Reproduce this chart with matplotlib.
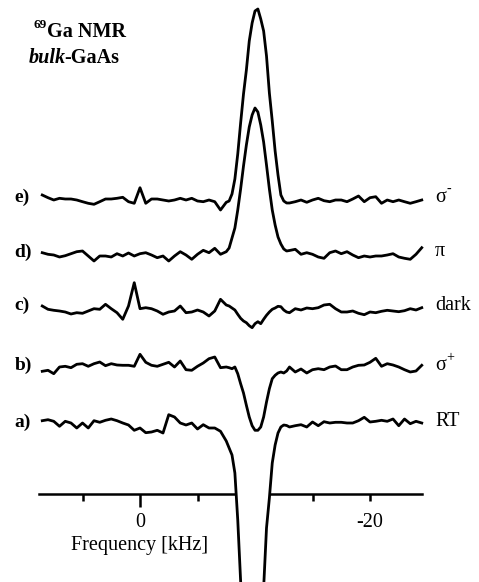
import numpy as np
import matplotlib
matplotlib.use("Agg")
import matplotlib.pyplot as plt

plt.rcParams['font.family'] = ['Liberation Serif', 'DejaVu Serif']

# ---------------- data ----------------
# frequency grid (kHz): 0.5 kHz steps, 0.25 kHz steps across the line
freq_khz = np.concatenate([np.arange(8.5, -7.75, -0.5),
                           np.arange(-7.75, -13.1, -0.25),
                           np.arange(-13.5, -24.6, -0.5)])

# e) sigma-
trace_e = [6, 3.3, 1, 2.7, 2, 2, 1, -0.7, -2.3, -3.3, -0.7, 2, 2, 2.7, 3.7, -0.7, -2.3,
           13.3, -2.3, 2, 2, 1, 0, 1, 2.7, 1, 2.7, 0, -0.7, 1, -0.7, -9, -1.3,
           0, 7, 22, 47, 78, 107, 131, 160, 178, 190, 192, 182, 170, 145, 108, 80, 50, 26, 6, 0, -2, -2,
           -0.7, 1, -1.3, 1, 2.7, 0.3, -0.7, 1, 1, -0.7, 2, 5, -0.7, 3.3, 4.3, -2.3, 1, -0.7, 1,
           -0.7, -2.3, -0.7, 1]
# d) pi
trace_d = [2.3, 0.7, 0, -2, -0.7, 1.3, 3.3, 4, -1, -6, -1, -1, -2, 1.3, -1, 2, -1, 1.3, 2.3,
           0, -2.7, -1, -6, -1, 3.3, 0, -4.3, 0.7, 4.7, 2.3, 6.7, 0.7, 3.3,
           7, 17, 27, 45, 66, 89, 110, 128, 140, 147, 143, 130, 113, 90, 66, 45, 30, 18, 11, 6, 4, 4.5,
           5.7, 0.7, 2.3, 0.7, -2, -3.3, 2.3, 4, 1.3, 3.3, 0, -2.7, -1, -2, -1, -1, 0, 1.3, -2,
           -3.3, -4.3, 0.7, 7.3]
# c) dark
trace_c = [4, 0.7, -0.3, -1, -2, -4, -2.7, -3.3, -1, 1.3, 0.7, 5.7, 1.3, -2.7, -9.3, 4, 27.3,
           1.3, 2.3, 1.3, -1, -4.3, -2, -1, 4, -2.7, -2, 0, -2, -6, -1, 10.7, 5,
           4, 2, 0, -4.3, -8.3, -11, -12.7, -15.7, -17.7, -13.7, -11.7, -13.7, -9.3, -5.3, -2, 0.7,
           2, 3.7, 3.3, 0, -2, -2.7,
           1.3, 0, 2, 1.3, 2.3, 5, 5.7, 1.3, -2, -2, -1, -3.3, -4.7, -2, -2.7, -1.3, -0.3, -1,
           -1.7, -0.7, 1.3, 0, 2.3]
# b) sigma+
trace_b = [-4.3, -3.3, -6.7, 0, 0.7, -0.7, 2.7, 3.3, 0.7, 3.3, 5, 1.3, 3.3, 2, 1.7, 1.7, 0.7,
           12.7, 4.7, 1.7, 0.7, 2.7, 4.7, 0, 6, -2.7, -3.3, 0.7, 4, 8.3, 10, -0.7, 0,
           -0.7, -1.7, 0, -6.7, -16.7, -26, -38.3, -50, -58.7, -63.3, -63.3, -60, -50, -35, -21.7,
           -11.7, -8.3, -6, -5, -6, -4, 0,
           -5, -2, -6, -2.7, -1.7, -2.7, 0, 1, -2.7, -2.7, 0, 1.7, 2, 4.7, 8.7, 0.7, 3.3, 2, 0,
           -2.7, -5, -4, 1.7]
# a) RT
trace_a = [2.3, 3.3, 1.7, -3.3, 1.7, 0, -5, 0, -5, 2.3, 0.7, 2.7, 4, 2.3, 0, -2, -7.3, -5,
           -9.7, -9, -7.3, -10, 8.3, 6, 0, -2, 0, -6, -1.7, -5, -5, -8.3, -18,
           -25, -32, -50, -97, -158, -210, -270, -330, -370, -380, -360, -300, -165, -105, -75,
           -40, -22, -10, -4, -2, -2.5, -4,
           -2.7, -1.7, -4, 1, -2.7, 1.3, 0, 0.7, 0.7, 0, 0, 2.3, 5.7, 1, 1.7, 2.7, 1.7, 4, -2.7,
           4, -0.7, 1.7, 0]

traces = [trace_a, trace_b, trace_c, trace_d, trace_e]
left_labels = ["a)", "b)", "c)", "d)", "e)"]
right_labels = [("RT", ""), ("σ", "+"), ("dark", ""), ("π", ""), ("σ", "-")]
major_ticks = [0, -20]
major_tick_labels = ["0", "-20"]
minor_ticks = [5, -5, -10, -15]
x_label = "Frequency [kHz]"

# ---------------- layout ----------------
offsets = [0, 56, 113, 168, 222]
label_shift = [1, 2, 5, 3, 4]

fig = plt.figure(figsize=(4.79, 5.82), dpi=100)
fig.patch.set_facecolor('white')
ax = fig.add_axes([0, 0, 1, 1])
ax.set_xlim(12.174, -29.478)
ax.set_ylim(-159, 423)
ax.patch.set_visible(False)

for name in ['top', 'left', 'right']:
    ax.spines[name].set_visible(False)
ax.spines['bottom'].set_position(('data', -71))
ax.spines['bottom'].set_bounds(-24.5, 8.8)
ax.spines['bottom'].set_linewidth(1.8)
ax.set_yticks([])
ax.set_xticks(major_ticks)
ax.set_xticklabels(major_tick_labels, fontsize=14.5)
ax.set_xticks(minor_ticks, minor=True)
ax.tick_params(axis='x', which='both', direction='out', length=5, width=1.8, pad=9)
ax.xaxis.get_major_ticks()[0].tick1line.set_markersize(9)
ax.set_xlabel(x_label, fontsize=14.5)
ax.xaxis.set_label_coords(0.0, -113, transform=ax.transData)

f = np.asarray(freq_khz)
for vals, off, ll, (rl, sup), dy in zip(traces, offsets, left_labels, right_labels, label_shift):
    y = off + np.asarray(vals, dtype=float)
    ax.plot(f, y, color='black', lw=2.0, solid_joinstyle='round', zorder=4, clip_on=True)
    ax.text(10.9, off + dy, ll, fontsize=14, fontweight='bold', ha='left', va='center')
    t = ax.text(-25.65, off + dy, rl, fontsize=14.5, ha='left', va='center')
    if sup:
        ax.annotate(sup, xy=(1, 0), xycoords=t, xytext=(0.5, 9.5),
                    textcoords='offset points', fontsize=10, ha='left', va='baseline')

# white area inside the RT line, hiding the axis behind it
ya = np.asarray(trace_a, dtype=float)
ax.fill_between(f, offsets[0] + ya, offsets[0], where=ya < -15, color='white',
                zorder=3, linewidth=0)


# title
def fx(px):
    return px / 479.0


def fy(py):
    return 1 - py / 582.0


fig.text(fx(47), fy(37), "Ga NMR", fontsize=14.5, fontweight='bold', ha='left', va='baseline')
fig.text(fx(47), fy(28), "69", fontsize=9.5, fontweight='bold', ha='right', va='baseline')
tb = fig.text(fx(29), fy(63), "bulk", fontsize=14.5, fontweight='bold', fontstyle='italic',
              ha='left', va='baseline')
ax.annotate("-GaAs", xy=(1, 0), xycoords=tb, xytext=(-1.5, 0), textcoords='offset points',
            fontsize=14.5, fontweight='bold', ha='left', va='bottom')

fig.savefig("out.png", dpi=100, facecolor='white')
